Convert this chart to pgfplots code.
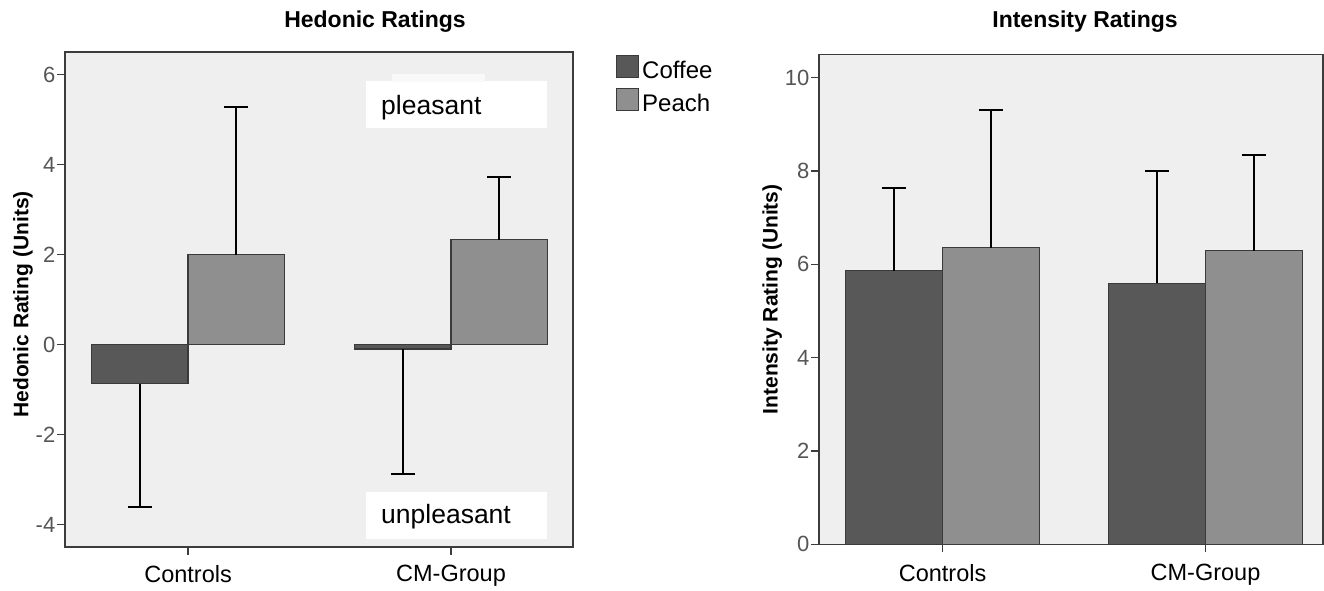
\documentclass[border=0pt]{standalone}
\usepackage{fontspec}
\setmainfont{Liberation Sans}
\usepackage{pgfplots}
\pgfplotsset{compat=1.18}
\definecolor{coffee}{HTML}{585858}
\definecolor{peach}{HTML}{8F8F8F}
\definecolor{bg}{HTML}{EFEFEF}
\definecolor{axisc}{HTML}{3C3C3C}
\definecolor{tickc}{HTML}{555555}
\definecolor{barline}{HTML}{3A3A3A}

\pgfplotsset{
 myaxis/.style={
  scale only axis,
  anchor=south west,
  axis background/.style={fill=bg},
  axis line style={axisc, line width=1.5pt},
  tick style={axisc, line width=1.3pt},
  tick align=outside,
  major tick length=8pt,
  tick pos=left,
  xtick={0,1},
  xticklabels={Controls,CM-Group},
  /pgf/number format/assume math mode=true,
  yticklabel style={font=\fontsize{22}{22}\selectfont, text=tickc, inner sep=1.5pt},
  xticklabel style={font=\fontsize{23.5}{23.5}\selectfont, text=black, inner sep=3pt, yshift=-7pt},
  ylabel style={font=\bfseries\fontsize{21}{21}\selectfont, anchor=center},
  error bars/error bar style={black, line width=2pt},
  error bars/error mark options={black, line width=2pt, mark size=12pt, rotate=90},
 },
 % bars are placed at their own x positions (category -/+ 0.184)
 coffeebar/.style={ybar, bar width=0.368, bar shift=0, fill=coffee, draw=barline, line width=1.2pt},
 peachbar/.style={ybar, bar width=0.368, bar shift=0, fill=peach, draw=barline, line width=1.2pt},
}

\begin{document}
\begin{tikzpicture}[x=1pt,y=1pt]
\useasboundingbox (0pt,0pt) rectangle (1324pt,590pt);

% ---------------- Hedonic ----------------
\begin{axis}[myaxis,
  at={(65pt,43pt)}, width=508pt, height=495pt,
  xmin=-0.468, xmax=1.464,
  ymin=-4.5, ymax=6.5,
  ytick={-4,-2,0,2,4,6},
  ylabel={Hedonic Rating (Units)},
  ylabel style={at={(axis description cs:-0.0827,0.49)}},
  legend style={at={(axis description cs:1.0846,0.994)}, anchor=north west,
    draw=none, fill=none, inner sep=0pt, outer sep=0pt, row sep=8pt,
    font=\fontsize{24}{24}\selectfont,
    nodes={inner sep=0pt},
    /tikz/every odd column/.append style={column sep=3pt}},
  legend cell align=left,
  legend image code/.code={\draw[#1, draw=barline, line width=1.2pt] (0pt,-7pt) rectangle (22pt,15pt);},
]
\addplot[coffeebar, error bars/.cd, y dir=minus, y explicit]
  coordinates {(-0.184,-0.87) -= (0,2.74) (0.816,-0.10) -= (0,2.78)};
\addlegendentry{Coffee}
\addplot[peachbar, error bars/.cd, y dir=plus, y explicit]
  coordinates {(0.184,2.00) += (0,3.28) (1.184,2.33) += (0,1.39)};
\addlegendentry{Peach}
\end{axis}

% white annotation boxes
\fill[white] (366pt,462pt) rectangle (547pt,509pt);
\fill[white!60!bg] (392pt,508pt) rectangle (485pt,516pt);
\node[anchor=base west, inner sep=0pt, font=\fontsize{26.5}{26.5}\selectfont] at (381pt,475pt) {pleasant};
\fill[white] (366pt,51pt) rectangle (547pt,98pt);
\node[anchor=base west, inner sep=0pt, font=\fontsize{26.5}{26.5}\selectfont] at (381pt,67pt) {unpleasant};

\node[font=\bfseries\fontsize{23}{23}\selectfont] at (375pt,568pt) {Hedonic Ratings};

% ---------------- Intensity ----------------
\begin{axis}[myaxis,
  at={(819pt,45.7pt)}, width=504pt, height=490pt,
  xmin=-0.470, xmax=1.447,
  ymin=0, ymax=10.5,
  ytick={0,2,4,6,8,10},
  ylabel={Intensity Rating (Units)},
  ylabel style={at={(axis description cs:-0.093,0.5)}},
  xticklabel style={yshift=-2pt},
]
\addplot[coffeebar, error bars/.cd, y dir=plus, y explicit]
  coordinates {(-0.184,5.86) += (0,1.78) (0.816,5.59) += (0,2.40)};
\addplot[peachbar, error bars/.cd, y dir=plus, y explicit]
  coordinates {(0.184,6.36) += (0,2.95) (1.184,6.29) += (0,2.05)};
\end{axis}

\node[font=\bfseries\fontsize{23}{23}\selectfont] at (1085pt,568pt) {Intensity Ratings};
\end{tikzpicture}
\end{document}
